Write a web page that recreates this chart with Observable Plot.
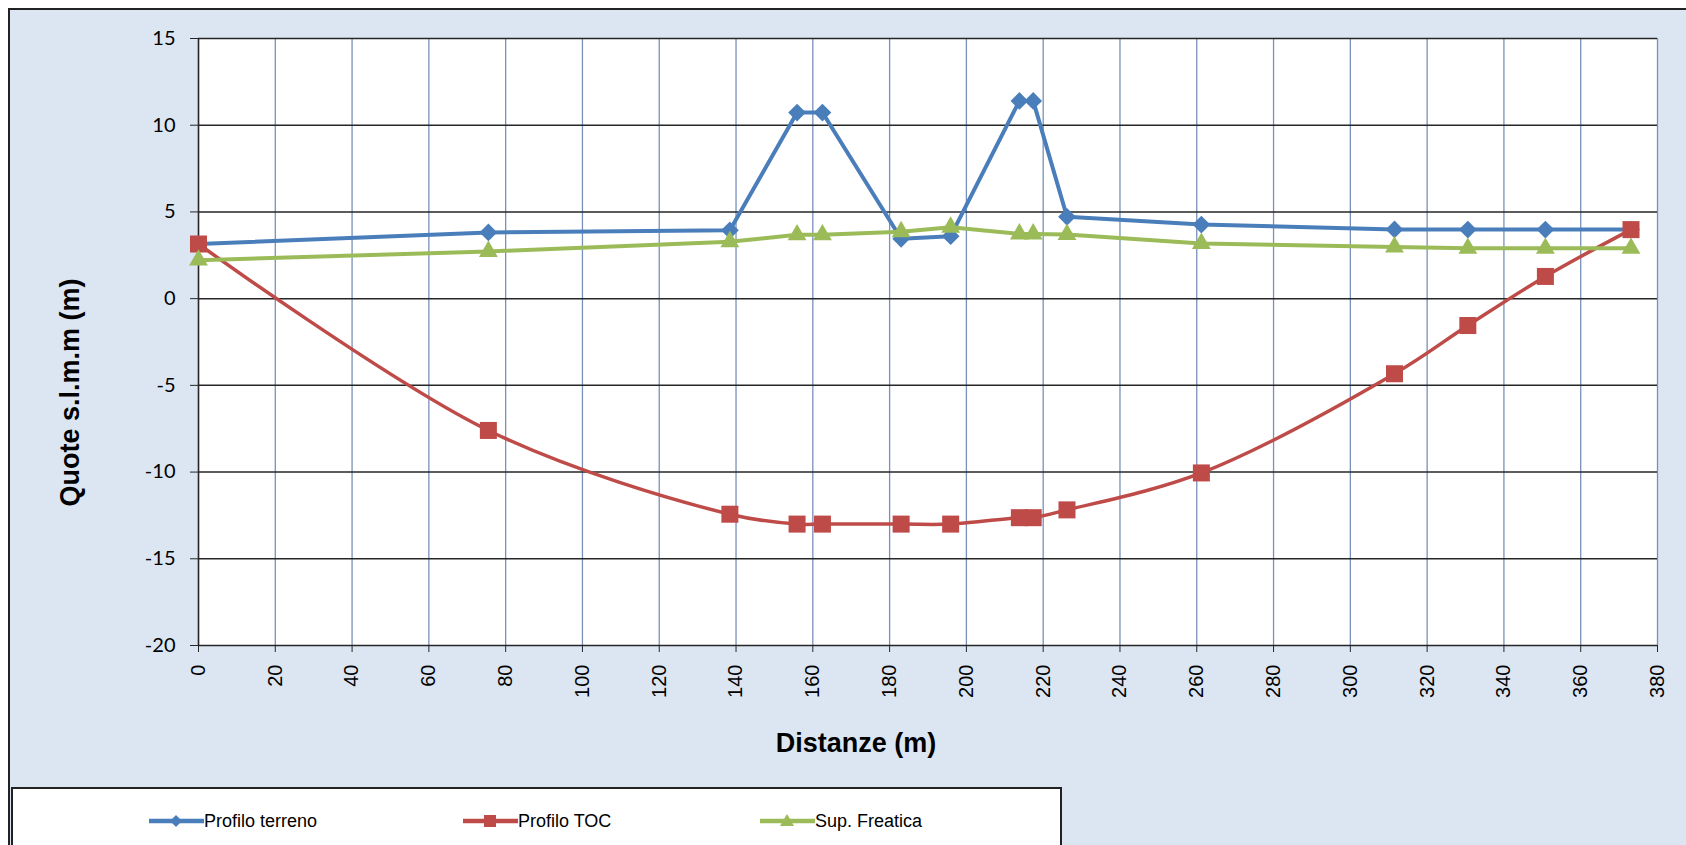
<!DOCTYPE html>
<html><head><meta charset="utf-8">
<script src="https://cdn.jsdelivr.net/npm/d3@7"></script>
<script src="https://cdn.jsdelivr.net/npm/@observablehq/plot@0.6"></script>
<style>
html,body{margin:0;padding:0;background:#fff;width:1686px;height:845px;overflow:hidden;}
#chart{position:absolute;left:8px;top:8px;width:1720px;height:900px;background:#dce6f2;border:2px solid #222;box-sizing:border-box;}
#plot{position:absolute;left:0;top:0;}
#plot svg{background:transparent;overflow:visible;}
.title{position:absolute;font-family:"Liberation Sans",Arial,sans-serif;font-weight:bold;font-size:27px;color:#000;white-space:nowrap;text-align:center;}
#xtitle{left:656px;width:400px;top:728px;}
#ytitle{left:-130px;width:400px;top:377px;transform:rotate(-90deg);transform-origin:50% 50%;}
#legend{position:absolute;left:11px;top:787px;width:1051px;height:80px;background:#fff;border:2px solid #222;box-sizing:border-box;font-family:"Liberation Sans Narrow","Arial Narrow","Liberation Sans",Arial,sans-serif;font-size:18px;color:#000;}
.item{position:absolute;top:20px;height:24px;display:flex;align-items:center;}
.item svg{display:block;}
</style>
</head><body>
<div id="chart"></div>
<div id="plot"></div>
<div class="title" id="xtitle">Distanze (m)</div>
<div class="title" id="ytitle">Quote s.l.m.m (m)</div>
<div id="legend"></div>
<script>
// Data
const distanze = [0, 75.5, 138.4, 155.9, 162.5, 183.0, 195.9, 213.8, 217.4, 226.2, 261.2, 311.5, 330.6, 350.8, 373.1];
const profiloTerreno = [3.15, 3.82, 3.94, 10.73, 10.73, 3.45, 3.6, 11.4, 11.4, 4.72, 4.27, 3.99, 3.98, 3.98, 3.98];
const profiloTOC = [3.15, -7.6, -12.43, -13.0, -13.0, -13.0, -13.0, -12.63, -12.63, -12.18, -10.05, -4.33, -1.55, 1.28, 3.98];
const supFreatica = [2.22, 2.72, 3.28, 3.68, 3.68, 3.86, 4.12, 3.73, 3.73, 3.7, 3.18, 2.98, 2.9, 2.9, 2.9];
const xTicks = d3.range(0, 381, 20);
const yTicks = [-20, -15, -10, -5, 0, 5, 10, 15];
const seriesNames = ["Profilo terreno", "Profilo TOC", "Sup. Freatica"];
const seriesColors = ["#4a7ebb", "#be4b48", "#9bbb59"];

const mk = vals => distanze.map((d, i) => ({x: d, y: vals[i]}));
const terreno = mk(profiloTerreno), toc = mk(profiloTOC), freatica = mk(supFreatica);

const chart = Plot.plot({
  width: 1686, height: 780,
  marginLeft: 198, marginRight: 29, marginTop: 38, marginBottom: 135,
  style: {background: "transparent", color: "#000", fontFamily: "Lato, 'Open Sans', sans-serif"},
  x: {domain: [0, 380]},
  y: {domain: [-20, 15]},
  marks: [
    Plot.frame({fill: "white", stroke: null}),
    Plot.ruleX(xTicks, {stroke: "#7890bc", strokeWidth: 1.3}),
    Plot.ruleY(yTicks, {stroke: "#262626", strokeWidth: 1.5}),
    Plot.ruleX([0], {stroke: "#262626", strokeWidth: 1.5}),
    Plot.axisY({ticks: yTicks, tickSize: 8, tickPadding: 15, fontSize: 20, label: null, stroke: "#262626",
                tickFormat: d => String(d)}),
    Plot.axisX({ticks: xTicks, tickRotate: -90, tickSize: 7, tickPadding: 12, fontSize: 20, label: null,
                fontFamily: "'Liberation Sans', Arial, sans-serif", stroke: "#262626", tickFormat: d => String(d)}),
    Plot.line(terreno, {x: "x", y: "y", stroke: seriesColors[0], strokeWidth: 4}),
    Plot.dot(terreno, {x: "x", y: "y", symbol: "diamond2", r: 8, fill: seriesColors[0], stroke: null}),
    Plot.line(toc, {x: "x", y: "y", stroke: seriesColors[1], strokeWidth: 3.5, curve: "catmull-rom"}),
    Plot.dot(toc, {x: "x", y: "y", symbol: "square", r: 9.6, fill: seriesColors[1], stroke: null}),
    Plot.line(freatica, {x: "x", y: "y", stroke: seriesColors[2], strokeWidth: 4}),
    Plot.dot(freatica, {x: "x", y: "y", symbol: "triangle", r: 7, fill: seriesColors[2], stroke: null})
  ]
});
document.getElementById("plot").appendChild(chart);

// Legend
const legend = document.getElementById("legend");
const lefts = [136, 450, 747];
const shapes = [
  c => `<path d="M27,6 L33,12 L27,18 L21,12Z" fill="${c}"/>`,
  c => `<rect x="21" y="6" width="12" height="12" fill="${c}"/>`,
  c => `<path d="M27,5 L34,17 L20,17Z" fill="${c}"/>`
];
seriesNames.forEach((name, i) => {
  const div = document.createElement("div");
  div.className = "item";
  div.style.left = lefts[i] + "px";
  div.innerHTML = `<svg width="55" height="24"><line x1="0" y1="12" x2="55" y2="12" stroke="${seriesColors[i]}" stroke-width="4.5"/>${shapes[i](seriesColors[i])}</svg><span>${name}</span>`;
  legend.appendChild(div);
});
</script>
</body></html>
